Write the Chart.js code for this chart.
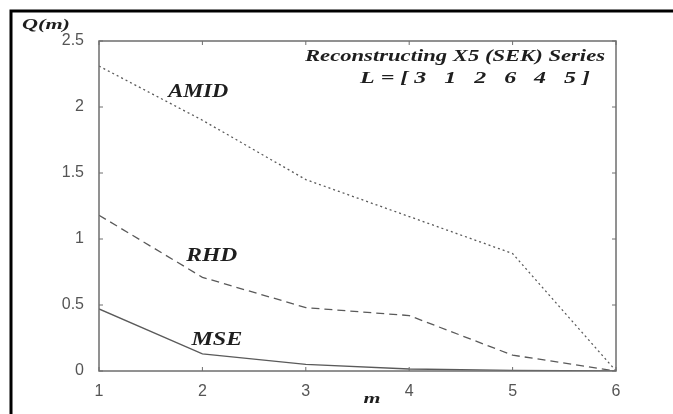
<!DOCTYPE html>
<html>
<head>
<meta charset="utf-8">
<script src="https://cdn.jsdelivr.net/npm/chart.js@4.4.1/dist/chart.umd.min.js"></script>
<style>
  html, body { margin: 0; padding: 0; background: #fff; }
  #wrap { width: 673px; height: 414px; }
</style>
</head>
<body>
<div id="wrap"><canvas id="qChart" width="673" height="414"></canvas></div>
<script>
// Werte
const mValues = [1, 2, 3, 4, 5, 6];
const amid = [2.31, 1.90, 1.45, 1.17, 0.89, 0];
const rhd  = [1.18, 0.71, 0.48, 0.42, 0.12, 0];
const mse  = [0.47, 0.13, 0.05, 0.015, 0.005, 0];
const seriesNames = ["AMID", "RHD", "MSE"];
const yTicks = [0, 0.5, 1, 1.5, 2, 2.5];
const titleLines = ["Reconstructing X5 (SEK) Series", "L = [ 3   1   2   6   4   5 ]"];

const lineColor = "#5a5a5a";
const axisColor = "#6e6e6e";
const serif = "'Liberation Serif', 'DejaVu Serif', serif";
const sans = "'Liberation Sans', Arial, sans-serif";

function toPoints(vals) {
  return mValues.map((m, i) => ({ x: m, y: vals[i] }));
}

// gestreckter Text wie im Original
function stretchText(ctx, text, cx, cy, font, width, color) {
  ctx.save();
  ctx.font = font;
  const w = ctx.measureText(text).width;
  const sx = width / w;
  ctx.translate(cx, cy);
  ctx.scale(sx, 1);
  ctx.textAlign = "center";
  ctx.textBaseline = "middle";
  ctx.fillStyle = color || "#1e1e1e";
  ctx.fillText(text, 0, 0);
  ctx.restore();
}

const framePlugin = {
  id: "frame",
  beforeDraw(chart) {
    const c = chart.ctx;
    c.save();
    c.fillStyle = "#fff";
    c.fillRect(0, 0, chart.width, chart.height);
    // schwarzer Rahmen (oben und links sichtbar)
    c.strokeStyle = "#000";
    c.lineWidth = 3;
    c.beginPath();
    c.moveTo(11, chart.height + 5);
    c.lineTo(11, 11);
    c.lineTo(chart.width + 5, 11);
    c.stroke();
    c.restore();
  },
  afterDraw(chart) {
    const c = chart.ctx;
    const a = chart.chartArea;
    const xs = chart.scales.x;
    const ys = chart.scales.y;
    c.save();
    c.strokeStyle = axisColor;
    c.lineWidth = 1.5;
    c.strokeRect(a.left, a.top, a.right - a.left, a.bottom - a.top);
    // Ticks nach innen, alle vier Seiten
    c.lineWidth = 1;
    const t = 4;
    mValues.forEach(m => {
      const px = xs.getPixelForValue(m);
      c.beginPath();
      c.moveTo(px, a.bottom); c.lineTo(px, a.bottom - t);
      c.moveTo(px, a.top); c.lineTo(px, a.top + t);
      c.stroke();
    });
    yTicks.forEach(v => {
      const py = ys.getPixelForValue(v);
      c.beginPath();
      c.moveTo(a.left, py); c.lineTo(a.left + t, py);
      c.moveTo(a.right, py); c.lineTo(a.right - t, py);
      c.stroke();
    });
    c.restore();

    const bi = "italic bold 18px " + serif;
    // Serienbeschriftungen
    stretchText(c, seriesNames[0], xs.getPixelForValue(1.96), ys.getPixelForValue(2.11), bi, 60);
    stretchText(c, seriesNames[1], xs.getPixelForValue(2.09), ys.getPixelForValue(0.87), bi, 51);
    stretchText(c, seriesNames[2], xs.getPixelForValue(2.14), ys.getPixelForValue(0.23), bi, 51);
    // Titel
    stretchText(c, titleLines[0], 455, 57, "italic bold 17px " + serif, 300);
    stretchText(c, titleLines[1], 475, 79, "italic bold 17px " + serif, 230);
    // Achsentitel
    stretchText(c, "Q(m)", 46, 25, "italic bold 15px " + serif, 48);
    stretchText(c, "m", 372, 399, "italic bold 15px " + serif, 17);
  }
};

const ctx = document.getElementById("qChart");

new Chart(ctx, {
  type: "line",
  data: {
    datasets: [
      { label: seriesNames[0], data: toPoints(amid), borderColor: lineColor, borderWidth: 1.3, borderDash: [2, 3], pointRadius: 0, tension: 0 },
      { label: seriesNames[1], data: toPoints(rhd), borderColor: lineColor, borderWidth: 1.3, borderDash: [8, 5], pointRadius: 0, tension: 0 },
      { label: seriesNames[2], data: toPoints(mse), borderColor: lineColor, borderWidth: 1.3, pointRadius: 0, tension: 0 }
    ]
  },
  options: {
    responsive: false,
    animation: false,
    layout: { padding: { top: 41, right: 57, left: 0, bottom: 0 } },
    plugins: {
      legend: { display: false },
      tooltip: { enabled: false }
    },
    scales: {
      x: {
        type: "linear",
        min: 1, max: 6,
        grid: { display: false },
        border: { display: false },
        ticks: { stepSize: 1, color: "#555", font: { family: sans, size: 16 }, padding: 3 },
        afterFit(scale) { scale.height = 43; }
      },
      y: {
        min: 0, max: 2.5,
        grid: { display: false },
        border: { display: false },
        ticks: {
          stepSize: 0.5, color: "#555", font: { family: sans, size: 16 }, padding: 7,
          callback: v => String(v)
        },
        afterFit(scale) { scale.width = 99; }
      }
    }
  },
  plugins: [framePlugin]
});
</script>
</body>
</html>
